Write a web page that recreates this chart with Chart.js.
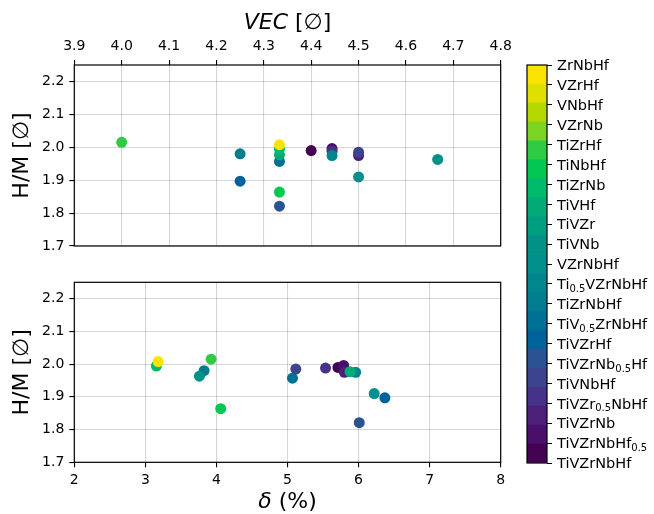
<!DOCTYPE html>
<html><head><meta charset="utf-8">
<script src="https://cdn.jsdelivr.net/npm/chart.js@4"></script>
<style>
html,body{margin:0;padding:0;background:#fff;}
#wrap{position:relative;width:654px;height:514px;overflow:hidden;}
#wrap canvas{position:absolute;left:0;top:0;}
</style></head><body>
<div id="wrap">
<canvas id="cTop" width="654" height="514"></canvas>
<canvas id="cBot" width="654" height="514"></canvas>
<canvas id="cBar" width="654" height="514"></canvas>
</div>
<script>
// ---- data ----
const compounds = ['TiVZrNbHf','TiVZrNbHf_{0.5}','TiVZrNb','TiVZr_{0.5}NbHf','TiVNbHf','TiVZrNb_{0.5}Hf','TiVZrHf','TiV_{0.5}ZrNbHf','TiZrNbHf','Ti_{0.5}VZrNbHf','VZrNbHf','TiVNb','TiVZr','TiVHf','TiZrNb','TiNbHf','TiZrHf','VZrNb','VNbHf','VZrHf','ZrNbHf'];
const sampleCompound = [0,1,2,3,4,5,6,7,8,9,10,11,13,14,15,16,20];
const vec   = [4.4,4.444,4.5,4.444,4.5,4.333,4.25,4.333,4.25,4.444,4.5,4.667,4.333,4.333,4.333,4.0,4.333];
const delta = [5.71,5.79,5.80,5.535,5.117,6.01,6.37,5.07,3.826,5.96,6.22,3.76,5.88,3.155,4.06,3.925,3.18];
const hm    = [1.990,1.996,1.975,1.988,1.985,1.821,1.897,1.957,1.980,1.975,1.910,1.963,1.977,1.994,1.864,2.015,2.008];
const vecTicks   = [3.9,4.0,4.1,4.2,4.3,4.4,4.5,4.6,4.7,4.8];
const deltaTicks = [2,3,4,5,6,7,8];
const hmTicks    = [1.7,1.8,1.9,2.0,2.1,2.2];
const cbarTicks  = [0,1,2,3,4,5,6,7,8,9,10,11,12,13,14,15,16,17,18,19,20];

// ---- styles ----
const bandColors = ['#440154','#4a0f6b','#4c2079','#473289','#3e438d','#2b5393','#00629a','#007094','#007e90','#00868d','#008f8b','#009288','#009e80','#00ab78','#00bb6b','#00c853','#2ecb43','#7cd321','#b5d800','#dfe000','#fde400'];
const FONT = 'DejaVu Sans';
const tickFont = {family: FONT, size: 14};
const gridColor = 'rgba(0,0,0,0.16)';

const framePlugin = {
  id: 'frame',
  afterDraw(chart) {
    const a = chart.chartArea, ctx = chart.ctx;
    ctx.save();
    ctx.strokeStyle = '#000';
    ctx.lineWidth = 1.2;
    ctx.strokeRect(a.left, a.top, a.right - a.left, a.bottom - a.top);
    ctx.restore();
  }
};

function drawMixed(ctx, parts, cx, cy, rot) {
  ctx.save();
  ctx.translate(cx, cy);
  if (rot) ctx.rotate(rot);
  ctx.textBaseline = 'middle';
  ctx.fillStyle = '#000';
  let w = 0;
  parts.forEach(p => { ctx.font = p.f; w += ctx.measureText(p.t).width; });
  let x = -w / 2;
  parts.forEach(p => { ctx.font = p.f; ctx.textAlign = 'left'; ctx.fillText(p.t, x, 0); x += ctx.measureText(p.t).width; });
  ctx.restore();
}

function titlePlugin(xParts, xY, yParts) {
  return {
    id: 'titles',
    afterDraw(chart) {
      const a = chart.chartArea, ctx = chart.ctx;
      drawMixed(ctx, xParts, (a.left + a.right) / 2, xY, 0);
      drawMixed(ctx, yParts, 22, (a.top + a.bottom) / 2, -Math.PI / 2);
    }
  };
}

const hmTitle = [{t: 'H/M [\u2205]', f: `22px "${FONT}"`}];

function yScale() {
  return {
    type: 'linear', position: 'left', min: 1.7, max: 2.25,
    afterBuildTicks: s => { s.ticks = hmTicks.map(v => ({value: v})); },
    ticks: {callback: v => v.toFixed(1), font: tickFont, color: '#000', padding: 5},
    grid: {color: gridColor, tickColor: '#000', tickLength: 5, lineWidth: 1.1},
    border: {display: false},
    afterFit: s => { s.width = 74.3; }
  };
}

function scatterData(xs) {
  return {datasets: [{
    data: sampleCompound.map((c, i) => ({x: xs[i], y: hm[i]})),
    pointBackgroundColor: sampleCompound.map(c => bandColors[c]),
    pointBorderWidth: 0, pointRadius: 5.5, pointHoverRadius: 5.5
  }]};
}

const common = {
  responsive: false, animation: false, events: [],
  plugins: {legend: {display: false}, tooltip: {enabled: false}}
};

new Chart(document.getElementById('cTop'), {
  type: 'scatter',
  data: scatterData(vec),
  options: Object.assign({}, common, {
    layout: {padding: {left: 0, top: 0, right: 153.3, bottom: 268}},
    scales: {
      x: {
        type: 'linear', position: 'top', min: 3.9, max: 4.8,
        afterBuildTicks: s => { s.ticks = vecTicks.map(v => ({value: v})); },
        ticks: {callback: v => v.toFixed(1), font: tickFont, color: '#000', padding: 5, maxRotation: 0, autoSkip: false},
        grid: {color: gridColor, tickColor: '#000', tickLength: 5, lineWidth: 1.1},
        border: {display: false},
        afterFit: s => { s.height = 65; }
      },
      y: yScale()
    }
  }),
  plugins: [framePlugin, titlePlugin([{t: 'VEC', f: `italic 22px "${FONT}"`}, {t: ' [\u2205]', f: `22px "${FONT}"`}], 23, hmTitle)]
});

new Chart(document.getElementById('cBot'), {
  type: 'scatter',
  data: scatterData(delta),
  options: Object.assign({}, common, {
    layout: {padding: {left: 0, top: 282.3, right: 153.3, bottom: 0}},
    scales: {
      x: {
        type: 'linear', position: 'bottom', min: 2, max: 8,
        afterBuildTicks: s => { s.ticks = deltaTicks.map(v => ({value: v})); },
        ticks: {callback: v => String(v), font: tickFont, color: '#000', padding: 5, maxRotation: 0, autoSkip: false},
        grid: {color: gridColor, tickColor: '#000', tickLength: 5, lineWidth: 1.1},
        border: {display: false},
        afterFit: s => { s.height = 51.7; }
      },
      y: yScale()
    }
  }),
  plugins: [framePlugin, titlePlugin([{t: '\u03b4', f: `italic 22px "${FONT}"`}, {t: ' (%)', f: `22px "${FONT}"`}], 502, hmTitle)]
});

function drawRich(ctx, text, x, y) {
  const parts = [];
  const re = /_\{([^}]*)\}/g;
  let last = 0, m;
  while ((m = re.exec(text)) !== null) {
    if (m.index > last) parts.push({t: text.slice(last, m.index), sub: false});
    parts.push({t: m[1], sub: true});
    last = re.lastIndex;
  }
  if (last < text.length) parts.push({t: text.slice(last), sub: false});
  ctx.save();
  ctx.fillStyle = '#000';
  ctx.textAlign = 'left';
  ctx.textBaseline = 'alphabetic';
  const base = y + 5.2;
  let cx = x;
  parts.forEach(p => {
    ctx.font = p.sub ? `10px "${FONT}"` : `14.5px "${FONT}"`;
    ctx.fillText(p.t, cx, p.sub ? base + 2.8 : base);
    cx += ctx.measureText(p.t).width;
  });
  ctx.restore();
}

const cbarLabels = {
  id: 'cbarLabels',
  afterDraw(chart) {
    const s = chart.scales.y, a = chart.chartArea, ctx = chart.ctx;
    cbarTicks.forEach(k => drawRich(ctx, compounds[k], a.right + 10, s.getPixelForValue(k)));
  }
};

new Chart(document.getElementById('cBar'), {
  type: 'bar',
  data: {
    labels: [''],
    datasets: compounds.map((name, k) => ({
      label: name, data: [cbarTicks[cbarTicks.length - 1] / compounds.length],
      backgroundColor: bandColors[k], borderWidth: 0,
      barPercentage: 1, categoryPercentage: 1
    }))
  },
  options: Object.assign({}, common, {
    layout: {padding: {left: 527, top: 65, right: 0, bottom: 51}},
    scales: {
      x: {stacked: true, display: false},
      y: {
        stacked: true, position: 'right', min: 0, max: 20,
        afterBuildTicks: s => { s.ticks = cbarTicks.map(v => ({value: v})); },
        ticks: {callback: v => compounds[v].replace(/_\{|\}/g, ''), font: tickFont, color: 'rgba(0,0,0,0)', padding: 5, autoSkip: false},
        grid: {drawOnChartArea: false, tickColor: '#000', tickLength: 5},
        border: {display: false},
        afterFit: s => { s.width = 107; }
      }
    }
  }),
  plugins: [framePlugin, cbarLabels]
});
</script>
</body></html>
